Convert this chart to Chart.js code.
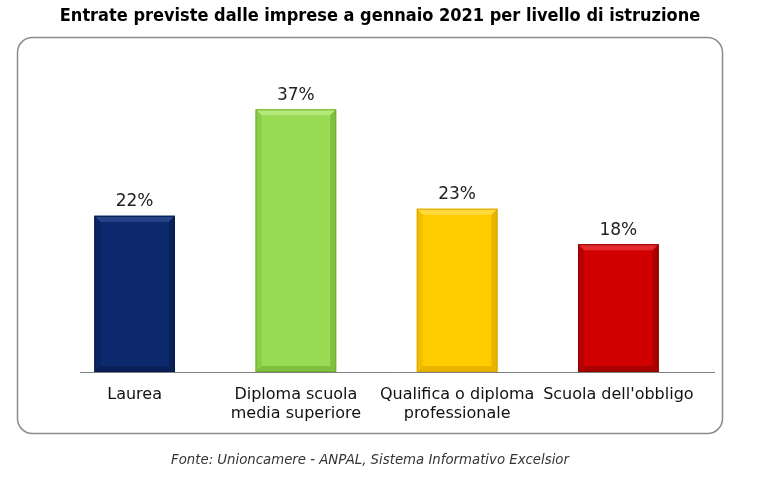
<!DOCTYPE html>
<html>
<head>
<meta charset="utf-8">
<script src="https://cdn.jsdelivr.net/npm/chart.js@4"></script>
<style>
  html, body { margin: 0; padding: 0; background: #fff; }
  #wrap { position: relative; width: 760px; height: 477px; }
</style>
</head>
<body>
<div id="wrap"><canvas id="chart" width="760" height="477"></canvas></div>
<script>
// dati
const categories = [["Laurea"], ["Diploma scuola", "media superiore"], ["Qualifica o diploma", "professionale"], ["Scuola dell'obbligo"]];
const values = [22, 37, 23, 18];
const barColors = ["#0d2a6e", "#99db55", "#ffcc00", "#d00000"];
const edgeColors = ["#061a4a", "#6fae30", "#d9a300", "#8f0000"];
const lightColors = ["#3a569a", "#c6f08f", "#ffe566", "#f04848"];

const titleText = "Entrate previste dalle imprese a gennaio 2021 per livello di istruzione";
const sourceText = "Fonte: Unioncamere - ANPAL, Sistema Informativo Excelsior";

function roundRect(ctx, x, y, w, h, r) {
    ctx.beginPath();
    ctx.moveTo(x + r, y);
    ctx.lineTo(x + w - r, y);
    ctx.arcTo(x + w, y, x + w, y + r, r);
    ctx.lineTo(x + w, y + h - r);
    ctx.arcTo(x + w, y + h, x + w - r, y + h, r);
    ctx.lineTo(x + r, y + h);
    ctx.arcTo(x, y + h, x, y + h - r, r);
    ctx.lineTo(x, y + r);
    ctx.arcTo(x, y, x + r, y, r);
    ctx.closePath();
}

// cornice, titolo, fonte e linea di base
const decorPlugin = {
    id: "decor",
    beforeDraw(chart) {
        const ctx = chart.ctx;
        ctx.save();
        ctx.fillStyle = "#fff";
        ctx.fillRect(0, 0, chart.width, chart.height);
        roundRect(ctx, 17.5, 37.5, 705, 396, 15);
        ctx.strokeStyle = "#8c8c8c";
        ctx.lineWidth = 1.5;
        ctx.stroke();

        ctx.fillStyle = "#000";
        ctx.textAlign = "center";
        ctx.textBaseline = "middle";
        ctx.font = "bold 18px 'DejaVu Sans Condensed', 'DejaVu Sans', sans-serif";
        ctx.fillText(titleText, 380, 16);

        ctx.fillStyle = "#333";
        ctx.font = "italic 13.3px 'DejaVu Sans', sans-serif";
        ctx.fillText(sourceText, 370, 461);

        const y0 = chart.scales.y.getPixelForValue(0);
        ctx.beginPath();
        ctx.moveTo(80, Math.round(y0) + 0.5);
        ctx.lineTo(715, Math.round(y0) + 0.5);
        ctx.strokeStyle = "#808080";
        ctx.lineWidth = 1;
        ctx.stroke();
        ctx.restore();
    },
    afterDatasetsDraw(chart) {
        const ctx = chart.ctx;
        const meta = chart.getDatasetMeta(0);
        ctx.save();
        meta.data.forEach((bar, i) => {
            const left = bar.x - bar.width / 2;
            const right = bar.x + bar.width / 2;
            const top = bar.y;
            const bottom = bar.base;
            const b = 6;
            // smusso in alto chiaro
            ctx.fillStyle = lightColors[i];
            ctx.globalAlpha = 0.6;
            ctx.beginPath();
            ctx.moveTo(left, top); ctx.lineTo(right, top);
            ctx.lineTo(right - b, top + b); ctx.lineTo(left + b, top + b);
            ctx.closePath(); ctx.fill();
            // lati scuri
            ctx.globalAlpha = 0.6;
            ctx.fillStyle = edgeColors[i];
            ctx.beginPath();
            ctx.moveTo(right, top); ctx.lineTo(right, bottom);
            ctx.lineTo(right - b, bottom - b); ctx.lineTo(right - b, top + b);
            ctx.closePath(); ctx.fill();
            ctx.beginPath();
            ctx.moveTo(left, bottom); ctx.lineTo(right, bottom);
            ctx.lineTo(right - b, bottom - b); ctx.lineTo(left + b, bottom - b);
            ctx.closePath(); ctx.fill();
            ctx.globalAlpha = 0.35;
            ctx.beginPath();
            ctx.moveTo(left, top); ctx.lineTo(left, bottom);
            ctx.lineTo(left + b, bottom - b); ctx.lineTo(left + b, top + b);
            ctx.closePath(); ctx.fill();
            ctx.globalAlpha = 1;
            ctx.strokeStyle = edgeColors[i];
            ctx.lineWidth = 1;
            ctx.strokeRect(left + 0.5, top + 0.5, bar.width - 1, bottom - top - 1);

            // etichetta valore
            ctx.fillStyle = "#222";
            ctx.font = "17px 'DejaVu Sans', sans-serif";
            ctx.textAlign = "center";
            ctx.textBaseline = "middle";
            ctx.fillText(values[i] + "%", bar.x, top - 14);
        });
        ctx.restore();
    }
};

new Chart(document.getElementById("chart"), {
    type: "bar",
    data: {
        labels: categories,
        datasets: [{
            data: values,
            backgroundColor: barColors,
            borderWidth: 0,
            barPercentage: 0.5,
            categoryPercentage: 1
        }]
    },
    options: {
        responsive: false,
        animation: false,
        layout: { padding: { left: 54, right: 61, top: 88, bottom: 43 } },
        plugins: {
            legend: { display: false },
            tooltip: { enabled: false }
        },
        scales: {
            x: {
                grid: { display: false },
                border: { display: false },
                ticks: {
                    color: "#111",
                    font: { family: "'DejaVu Sans', sans-serif", size: 16, lineHeight: 1.2 },
                    padding: 5,
                    maxRotation: 0,
                    autoSkip: false
                },
                afterFit(scale) { scale.height = 62; }
            },
            y: {
                display: false,
                min: 0,
                max: 40
            }
        }
    },
    plugins: [decorPlugin]
});
</script>
</body>
</html>
